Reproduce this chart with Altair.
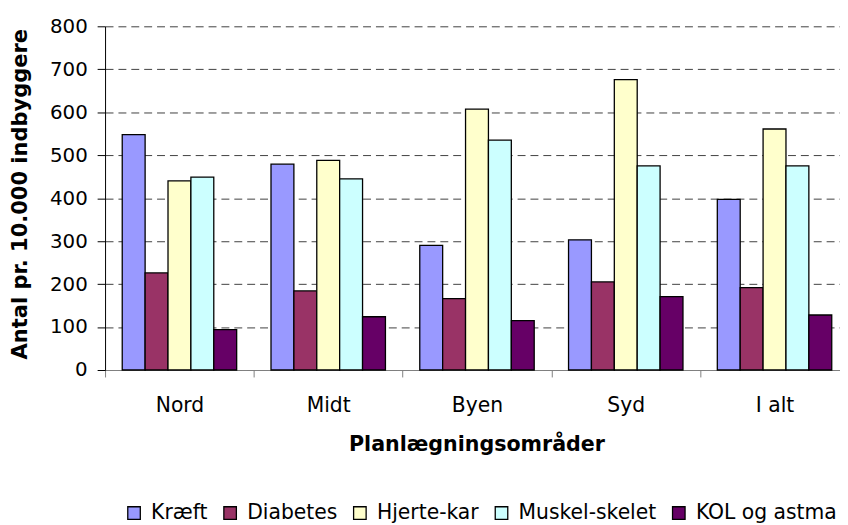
import altair as alt
import pandas as pd

regions = ["Nord", "Midt", "Byen", "Syd", "I alt"]
diseases = ["Kræft", "Diabetes", "Hjerte-kar", "Muskel-skelet", "KOL og astma"]
kraeft = [548, 479, 290, 303, 397]
diabetes = [226, 184, 166, 205, 192]
hjerte = [440, 488, 607, 676, 561]
muskel = [449, 445, 535, 475, 475]
kol = [94, 124, 115, 171, 128]
colors = ["#9999FF", "#993366", "#FFFFCC", "#CCFFFF", "#660066"]
y_ticks = [0, 100, 200, 300, 400, 500, 600, 700, 800]

rows = []
for name, vals in zip(diseases, [kraeft, diabetes, hjerte, muskel, kol]):
    for reg, v in zip(regions, vals):
        rows.append({"Område": reg, "Sygdom": name, "Værdi": v})
df = pd.DataFrame(rows)

FONT = "DejaVu Sans"

chart = alt.Chart(df).mark_bar(stroke="black", strokeWidth=1.3).encode(
    x=alt.X(
        "Område:N",
        sort=regions,
        scale=alt.Scale(range=[0, 751], paddingInner=0, paddingOuter=0),
        axis=alt.Axis(
            title="Planlægningsområder",
            labelAngle=0,
            tickBand="extent",
            domainColor="#808080",
            tickColor="#808080",
            tickSize=7,
            labelFontSize=20.5,
            labelBaseline="alphabetic",
            labelPadding=35,
            labelColor="black",
            titleFontSize=20.8,
            titleFontWeight="bold",
            titleColor="black",
            titleBaseline="alphabetic",
            titleAlign="center",
            titleX=375,
            titleY=81,
            grid=False,
        ),
    ),
    xOffset=alt.XOffset(
        "Sygdom:N", sort=diseases,
        scale=alt.Scale(paddingInner=0, paddingOuter=0.75),
    ),
    y=alt.Y(
        "Værdi:Q",
        scale=alt.Scale(domain=[0, 800], nice=False),
        axis=alt.Axis(
            title="Antal pr. 10.000 indbyggere",
            values=y_ticks,
            domainColor="black",
            tickColor="black",
            tickSize=8,
            labelFontSize=20,
            labelPadding=10,
            labelColor="black",
            titleFontSize=21.2,
            titleFontWeight="bold",
            titleColor="black",
            titleAngle=270,
            titleBaseline="alphabetic",
            titleAlign="center",
            titleX=-79,
            titleY=169,
            grid=True,
            gridColor="#404040",
            gridDash=[8, 5],
            gridWidth=1,
        ),
    ),
    color=alt.Color(
        "Sygdom:N",
        sort=diseases,
        scale=alt.Scale(domain=diseases, range=colors),
        legend=alt.Legend(
            title=None,
            orient="none",
            legendX=19,
            legendY=481,
            direction="horizontal",
            symbolType="square",
            symbolSize=160,
            symbolStrokeColor="black",
            symbolStrokeWidth=1.3,
            symbolOpacity=1,
            labelFontSize=20.5,
            labelColor="black",
            labelOffset=7,
            columnPadding=12,
        ),
    ),
).properties(
    width=742,
    height=347,
    autosize=alt.AutoSizeParams(type="none"),
    padding={"left": 98, "top": 16, "right": 0, "bottom": 155},
).configure(
    font=FONT,
).configure_view(
    stroke=None,
)

chart.save("out.html", embed_options={"renderer": "svg", "actions": False})
